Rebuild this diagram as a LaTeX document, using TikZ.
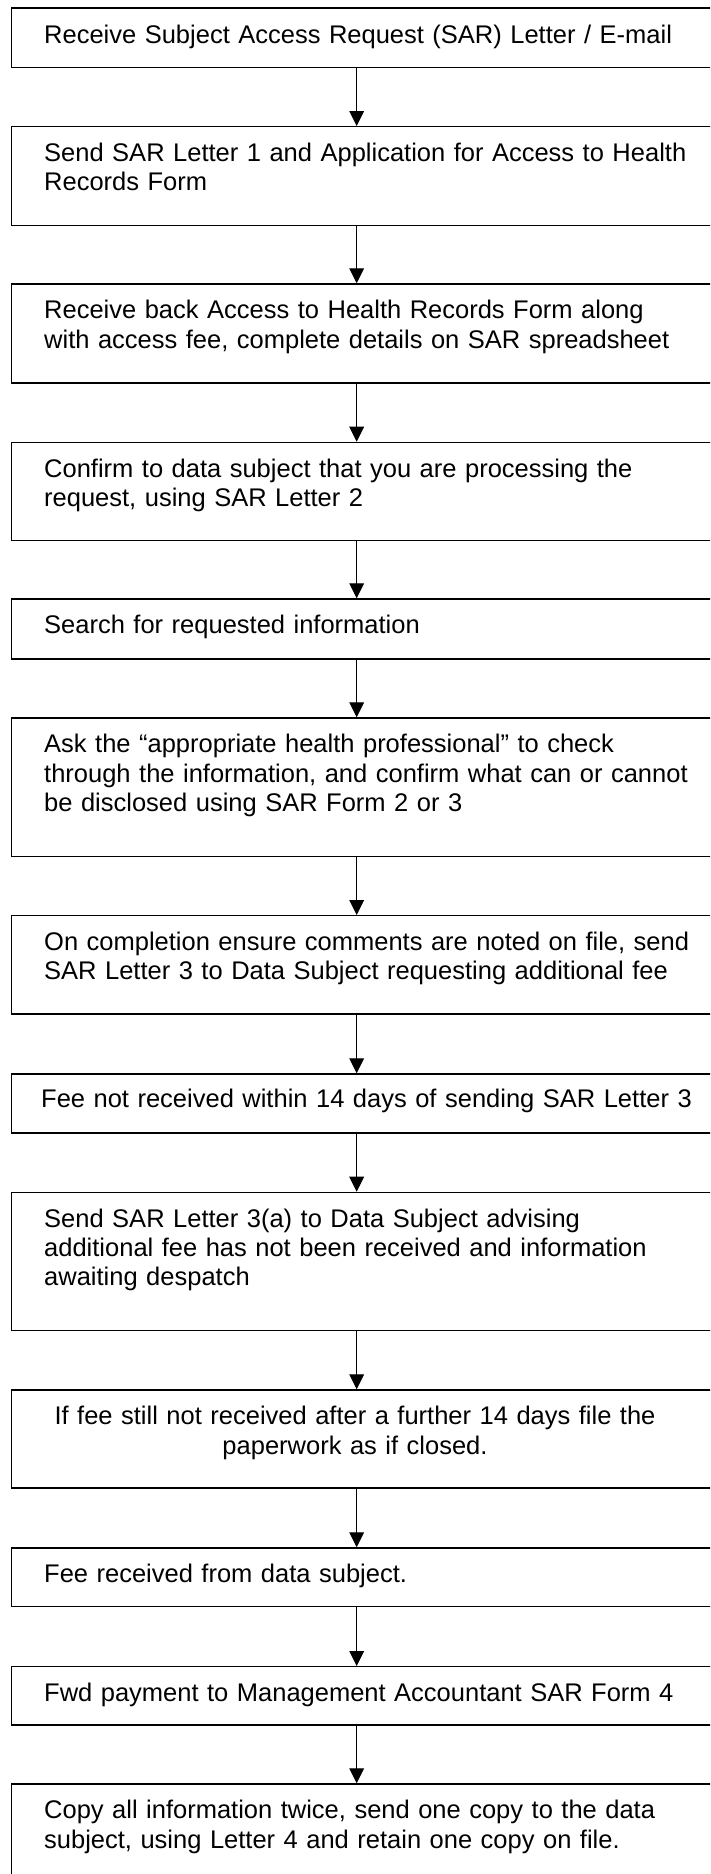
\documentclass[tikz,border=0pt]{standalone}
\usepackage{fontspec}
\setmainfont{Liberation Sans}
\usetikzlibrary{arrows.meta}
\tikzset{
  stepbox/.style={draw, line width=1.4pt, rectangle, inner sep=0pt,
    anchor=north west, minimum width=712pt},
  lbl/.style={anchor=base west, text width=700pt, align=left, inner sep=0pt,
    font=\fontsize{25.5}{29.3}\selectfont},
  clbl/.style={anchor=base, text width=700pt, align=center, inner sep=0pt,
    font=\fontsize{25.5}{29.3}\selectfont},
  flow/.style={line width=1pt, -{Triangle[width=14.7pt,length=15pt]}}
}
\begin{document}
\begin{tikzpicture}[x=1pt, y=-1pt]
\useasboundingbox (0,0) rectangle (710,1874);
\clip (0,0) rectangle (710,1874);
\fill[white] (0,0) rectangle (710,1874);
\coordinate (ax) at (356.7,0);

% process steps
\node[stepbox, minimum height=59.4pt] (b1) at (10.7,7.3) {};
\node[lbl] (t1) at (44,43.3) {Receive Subject Access Request (SAR) Letter / E-mail};

\node[stepbox, minimum height=99pt] (b2) at (10.7,126) {};
\node[lbl] (t2) at (44,161.5) {Send SAR Letter 1 and Application for Access to Health\\Records Form};

\node[stepbox, minimum height=99pt] (b3) at (10.7,283.3) {};
\node[lbl] (t3) at (44,318.8) {Receive back Access to Health Records Form along\\with access fee, complete details on SAR spreadsheet};

\node[stepbox, minimum height=98.3pt] (b4) at (10.7,441.7) {};
\node[lbl] (t4) at (44,477.2) {Confirm to data subject that you are processing the\\request, using SAR Letter 2};

\node[stepbox, minimum height=60pt] (b5) at (10.7,598.3) {};
\node[lbl] (t5) at (44,633.8) {Search for requested information};

\node[stepbox, minimum height=138.7pt] (b6) at (10.7,717.3) {};
\node[lbl] (t6) at (44,752.8) {Ask the “appropriate health professional” to check\\through the information, and confirm what can or cannot\\be disclosed using SAR Form 2 or 3};

\node[stepbox, minimum height=98.3pt] (b7) at (10.7,915) {};
\node[lbl] (t7) at (44,950.5) {On completion ensure comments are noted on file, send\\SAR Letter 3 to Data Subject requesting additional fee};

\node[stepbox, minimum height=59pt] (b8) at (10.7,1073.3) {};
\node[clbl] (t8) at (366.5,1107.5) {Fee not received within 14 days of sending SAR Letter 3};

\node[stepbox, minimum height=138.3pt] (b9) at (10.7,1191.7) {};
\node[lbl] (t9) at (44,1227.2) {Send SAR Letter 3(a) to Data Subject advising\\additional fee has not been received and information\\awaiting despatch};

\node[stepbox, minimum height=98pt] (b10) at (10.7,1389.3) {};
\node[clbl] (t10) at (355,1424.8) {If fee still not received after a further 14 days file the\\paperwork as if closed.};

\node[stepbox, minimum height=58.7pt] (b11) at (10.7,1547.3) {};
\node[lbl] (t11) at (44,1582.8) {Fee received from data subject.};

\node[stepbox, minimum height=58.3pt] (b12) at (10.7,1666) {};
\node[lbl] (t12) at (44,1701.5) {Fwd payment to Management Accountant SAR Form 4};

\node[stepbox, minimum height=120pt] (b13) at (10.7,1783.3) {};
\node[lbl] (t13) at (44,1818.8) {Copy all information twice, send one copy to the data\\subject, using Letter 4 and retain one copy on file.};

% connectors
\foreach \a/\b in {b1/b2,b2/b3,b3/b4,b4/b5,b5/b6,b6/b7,b7/b8,b8/b9,b9/b10,b10/b11,b11/b12,b12/b13}
  \draw[flow] (\a.south -| ax) -- (\b.north -| ax);
\end{tikzpicture}
\end{document}
